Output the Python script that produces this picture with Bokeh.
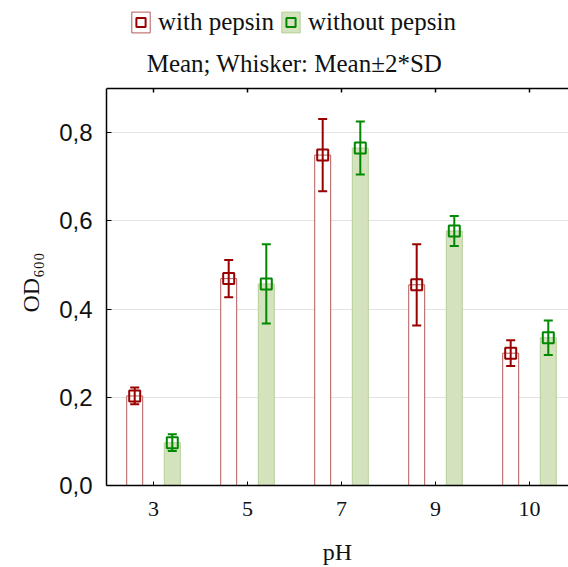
import numpy as np
from bokeh.plotting import figure
from bokeh.models import (Range1d, FixedTicker, Legend, LegendItem, Label, Span, Title,
                          Whisker, TeeHead, ColumnDataSource)
from bokeh.embed import file_html
from bokeh.resources import INLINE

ph_labels = ["3", "5", "7", "9", "10"]
with_mean = [0.203, 0.469, 0.749, 0.455, 0.300]
with_sd = [0.0095, 0.021, 0.041, 0.046, 0.0145]
without_mean = [0.097, 0.457, 0.765, 0.577, 0.335]
without_sd = [0.0095, 0.045, 0.030, 0.017, 0.0195]
y_ticks = [0.0, 0.2, 0.4, 0.6, 0.8]
y_tick_labels = ["0,0", "0,2", "0,4", "0,6", "0,8"]
Y_TOP = 0.9

RED = "#990000"
GREEN = "#008800"

# layout: plot box from y=88 to y=485 px; the space above holds legend & subtitle
H, BOTTOM, BOX_TOP = 567, 82, 88
frame_h = H - BOTTOM
y_end = Y_TOP * frame_h / (frame_h - BOX_TOP)
px = Y_TOP / (frame_h - BOX_TOP)  # data units per pixel

idx = np.arange(len(ph_labels))
wm = np.array(with_mean); ws = np.array(with_sd)
om = np.array(without_mean); osd = np.array(without_sd)

src_w = ColumnDataSource(dict(x=idx - 0.2, top=wm, upper=wm + 2 * ws, lower=wm - 2 * ws))
src_o = ColumnDataSource(dict(x=idx + 0.2, top=om, upper=om + 2 * osd, lower=om - 2 * osd))

p = figure(width=568, height=H, output_backend="svg", toolbar_location=None,
           x_range=Range1d(-0.5, 4.415), y_range=Range1d(0, y_end),
           min_border_left=106, min_border_right=0, min_border_top=0, min_border_bottom=BOTTOM)
p.outline_line_color = None
p.background_fill_color = "white"

bar_w = p.vbar(x="x", top="top", width=0.17, bottom=0, source=src_w,
               fill_color="white", line_color="#b35a5a", line_width=1)
bar_o = p.vbar(x="x", top="top", width=0.17, bottom=0, source=src_o,
               fill_color="#d4e3bd", line_color="#b5cf98", line_width=1)

for src, col in ((src_w, RED), (src_o, GREEN)):
    wh = Whisker(source=src, base="x", upper="upper", lower="lower", dimension="height",
                 line_color=col, line_width=2, level="annotation",
                 upper_head=TeeHead(size=9, line_color=col, line_width=2),
                 lower_head=TeeHead(size=9, line_color=col, line_width=2))
    p.add_layout(wh)

sc_w = p.scatter(x="x", y="top", source=src_w, marker="square", size=11,
                 fill_alpha=0, line_color=RED, line_width=2)
sc_o = p.scatter(x="x", y="top", source=src_o, marker="square", size=11,
                 fill_alpha=0, line_color=GREEN, line_width=2)

# top border with inward ticks
p.add_layout(Span(location=Y_TOP, dimension="width", line_color="black", line_width=1.5))
p.segment(x0=idx, x1=idx, y0=np.full(len(idx), Y_TOP), y1=np.full(len(idx), Y_TOP - 4 * px),
          line_color="black", line_width=1.5)

# axes
p.xgrid.visible = False
p.ygrid.grid_line_color = "#e3e3e3"
p.ygrid.ticker = FixedTicker(ticks=y_ticks[1:])

xa = p.xaxis[0]
xa.ticker = FixedTicker(ticks=list(idx))
xa.major_label_overrides = {int(i): l for i, l in zip(idx, ph_labels)}
xa.major_tick_in = 4
xa.major_tick_out = 0
xa.minor_tick_line_color = None
xa.axis_line_width = 1.5
xa.major_label_text_font = "Liberation Serif"
xa.major_label_text_font_size = "22px"
xa.major_label_text_color = "#111111"
xa.major_label_standoff = 16
xa.axis_label = "pH"
xa.axis_label_text_font = "Liberation Serif"
xa.axis_label_text_font_size = "24px"
xa.axis_label_text_font_style = "normal"
xa.axis_label_text_color = "#111111"
xa.axis_label_standoff = 20

ya = p.yaxis[0]
ya.bounds = (0, Y_TOP)
ya.ticker = FixedTicker(ticks=y_ticks)
ya.major_label_overrides = {t: l for t, l in zip(y_ticks, y_tick_labels)}
ya.major_tick_in = 5
ya.major_tick_out = 0
ya.minor_tick_line_color = None
ya.axis_line_width = 1.5
ya.major_label_text_font = "Liberation Sans"
ya.major_label_text_font_size = "24px"
ya.major_label_text_color = "#111111"
ya.major_label_standoff = 14

# y axis title, placed along the plot box (bottom of text at y ~ 312 px)
p.add_layout(Title(text="OD\u2086\u2080\u2080", align="left", offset=frame_h - 312,
                   vertical_align="bottom", standoff=26,
                   text_font="Liberation Serif", text_font_size="24px",
                   text_font_style="normal", text_color="#111111"), "left")

# subtitle
p.add_layout(Label(x=188, y=frame_h - 63, x_units="screen", y_units="screen",
                   text="Mean; Whisker: Mean\u00b12*SD", text_align="center",
                   text_baseline="alphabetic", text_font="Liberation Serif",
                   text_font_size="25px", text_color="#111111"))

legend = Legend(items=[LegendItem(label="with pepsin", renderers=[bar_w, sc_w]),
                       LegendItem(label="without pepsin", renderers=[bar_o, sc_o])],
                location=(23, frame_h - 36), orientation="horizontal",
                glyph_width=23, glyph_height=26, label_standoff=6, spacing=5,
                padding=0, margin=0, border_line_color=None, background_fill_alpha=0,
                label_text_font="Liberation Serif", label_text_font_size="25px",
                label_text_color="#111111", label_height=26)
p.add_layout(legend, "center")

open("out.html", "w").write(file_html(p, INLINE))
